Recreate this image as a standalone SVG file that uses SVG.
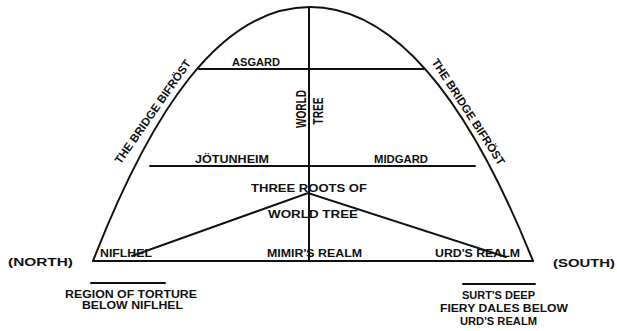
<svg xmlns="http://www.w3.org/2000/svg" width="617" height="331" viewBox="0 0 617 331">
<style>
.ln{stroke:#111;stroke-width:2;fill:none;stroke-linecap:round}
.t{font-family:"Liberation Sans",Arial,sans-serif;font-weight:bold;fill:#111;font-size:10px}
.m{text-anchor:middle}
.b{font-size:11.5px}
.w{font-size:14.5px}
.n{font-size:11px}
</style>
<rect width="617" height="331" fill="#fff"/>
<g id="connectors">
<path id="arch" class="ln" stroke-width="2.2" d="M93,261 C151.5,111 220,7 310,7 C400,7 473,111 533,261"/>
<line class="ln" x1="93" y1="261" x2="533" y2="261"/>
<line class="ln" x1="199" y1="69" x2="424" y2="69"/>
<line class="ln" x1="150" y1="166" x2="475" y2="166"/>
<line class="ln" stroke-width="1.6" x1="309" y1="8" x2="309" y2="261"/>
<polyline class="ln" stroke-width="1.8" points="132,256 308,193 506,257"/>
<line class="ln" stroke-width="1.6" x1="91" y1="283" x2="165" y2="283"/>
<line class="ln" stroke-width="1.6" x1="463" y1="284" x2="535" y2="284"/>
</g>
<g id="bifrost-left"><text class="t m b" transform="translate(156,114) rotate(-55)" textLength="124" lengthAdjust="spacingAndGlyphs">THE BRIDGE BIFRÖST</text></g>
<g id="bifrost-right"><text class="t m b" transform="translate(465,114) rotate(57)" textLength="124" lengthAdjust="spacingAndGlyphs">THE BRIDGE BIFRÖST</text></g>
<g id="asgard"><text class="t" x="232" y="66" textLength="48" lengthAdjust="spacingAndGlyphs">ASGARD</text></g>
<g id="world-tree"><text class="t m w" transform="translate(306,109) rotate(-90)" textLength="38" lengthAdjust="spacingAndGlyphs">WORLD</text><text class="t m w" transform="translate(322.5,111) rotate(-90)" textLength="27" lengthAdjust="spacingAndGlyphs">TREE</text></g>
<g id="jotunheim"><text class="t" x="195" y="163" textLength="74" lengthAdjust="spacingAndGlyphs">JÖTUNHEIM</text></g>
<g id="midgard"><text class="t" x="374" y="163" textLength="54" lengthAdjust="spacingAndGlyphs">MIDGARD</text></g>
<g id="roots"><text class="t" x="251" y="192" textLength="116" lengthAdjust="spacingAndGlyphs">THREE ROOTS OF</text><text class="t" x="268" y="218" textLength="90" lengthAdjust="spacingAndGlyphs">WORLD TREE</text></g>
<g id="niflhel"><text class="t" x="100" y="257" textLength="52" lengthAdjust="spacingAndGlyphs">NIFLHEL</text></g>
<g id="mimir"><text class="t" x="267" y="257" textLength="95" lengthAdjust="spacingAndGlyphs">MIMIR'S REALM</text></g>
<g id="urd"><text class="t" x="435" y="257" textLength="85" lengthAdjust="spacingAndGlyphs">URD'S REALM</text></g>
<g id="north"><text class="t n" x="8" y="266" textLength="65" lengthAdjust="spacingAndGlyphs">(NORTH)</text></g>
<g id="south"><text class="t n" x="553" y="267" textLength="62" lengthAdjust="spacingAndGlyphs">(SOUTH)</text></g>
<g id="torture"><text class="t" x="65" y="298" textLength="132" lengthAdjust="spacingAndGlyphs">REGION OF TORTURE</text><text class="t" x="82" y="309" textLength="101" lengthAdjust="spacingAndGlyphs">BELOW NIFLHEL</text></g>
<g id="surt"><text class="t" x="462" y="299" textLength="73" lengthAdjust="spacingAndGlyphs">SURT'S DEEP</text><text class="t" x="440" y="312" textLength="128" lengthAdjust="spacingAndGlyphs">FIERY DALES BELOW</text><text class="t" x="460" y="325" textLength="77" lengthAdjust="spacingAndGlyphs">URD'S REALM</text></g>
</svg>
